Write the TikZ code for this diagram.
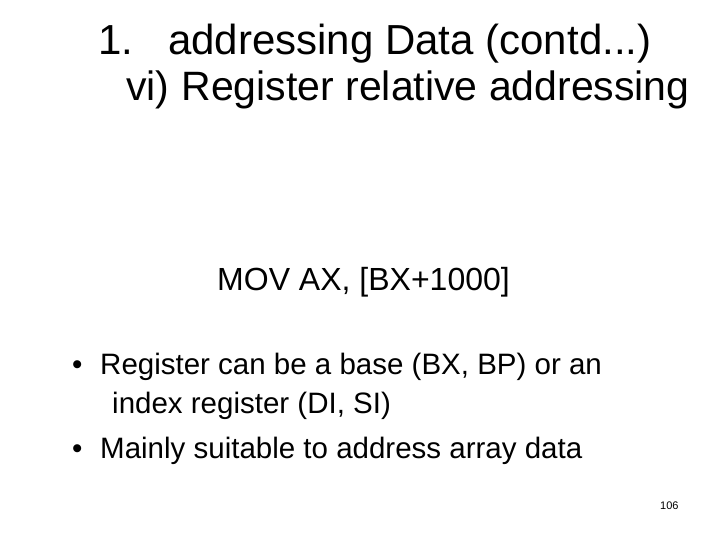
\documentclass[tikz,border=0pt]{standalone}
\usepackage{fontspec}
\setmainfont{Liberation Sans}
\begin{document}
\begin{tikzpicture}[x=1pt,y=-1pt,
  txt/.style={anchor=base west,inner sep=0pt}]
\useasboundingbox[fill=white] (0,0) rectangle (720,540);
\node[txt,font=\fontsize{42}{46}\selectfont] (t1n) at (98,55) {1.};
\node[txt,font=\fontsize{42}{46}\selectfont] (t1) at (168,55) {addressing Data (contd...)};
\node[txt,font=\fontsize{41}{46}\selectfont] (t2) at (126,101) {vi)\hspace{12pt}Register relative addressing};
\node[txt,font=\fontsize{32}{36}\selectfont] (mov) at (217,290) {MOV AX, [BX+1000]};
\node[txt,font=\fontsize{29.5}{34}\selectfont] (d1) at (72,374) {•};
\node[txt,font=\fontsize{29.5}{34}\selectfont] (b1) at (100,374) {Register can be a base (BX, BP) or an};
\node[txt,font=\fontsize{29.5}{34}\selectfont] (b1b) at (112,413) {index register (DI, SI)};
\node[txt,font=\fontsize{29.5}{34}\selectfont] (d2) at (72,458) {•};
\node[txt,font=\fontsize{29.5}{34}\selectfont] (b2) at (100,458) {Mainly suitable to address array data};
\node[txt,font=\fontsize{11}{13}\selectfont] (pg) at (660,509) {106};
\end{tikzpicture}
\end{document}
